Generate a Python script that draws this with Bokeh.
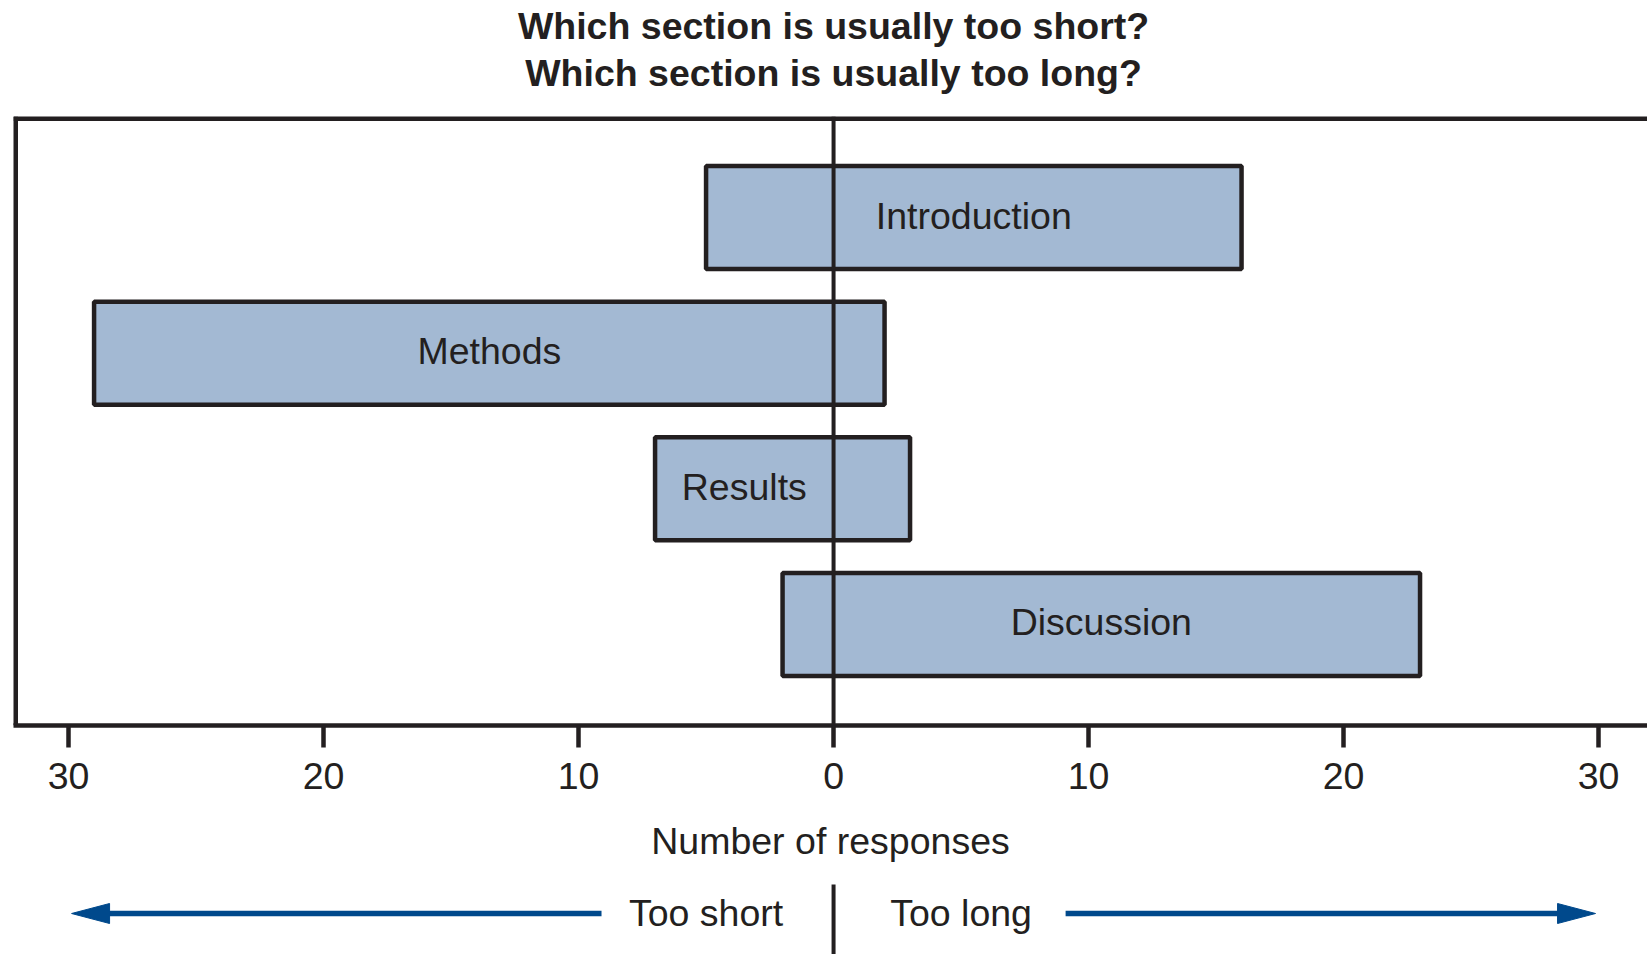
from bokeh.plotting import figure
from bokeh.models import FactorRange, Range1d, FixedTicker, Span, ColumnDataSource
from bokeh.layouts import column
from bokeh.core.properties import value
from bokeh.embed import file_html
from bokeh.resources import INLINE

# ---------------- data ----------------
sections = ["Introduction", "Methods", "Results", "Discussion"]
too_short = [5, 29, 7, 2]
too_long = [16, 2, 3, 23]
x_ticks = [-30, -20, -10, 0, 10, 20, 30]
x_tick_labels = ["30", "20", "10", "0", "10", "20", "30"]
title_lines = ["Which section is usually too short?", "Which section is usually too long?"]
x_axis_label = "Number of responses"
direction_labels = ["Too short", "Too long"]

# ---------------- style ----------------
FONT = "Liberation Sans"
FS = "37.5px"
INK = "#231f20"
BAR_FILL = "#a3b9d3"
ARROW = "#00498c"
W = 1647
X_START, X_END = -32.16, 31.92
PX = 25.5          # pixels per unit on the x axis
PAD = 0.245        # category padding at each end
LW = 4.5


def bare(fig):
    fig.xgrid.visible = False
    fig.ygrid.visible = False
    return fig


left = [-s for s in too_short]
right = list(too_long)
label_x = [(l + r) / 2 for l, r in zip(left, right)]
# the Results label sits in its too-short part, left of the zero line
label_x[2] = left[2] / 2

src = ColumnDataSource(dict(section=sections, left=left, right=right, label_x=label_x))
x_range = Range1d(X_START, X_END)

# ---------------- title strip ----------------
pt = bare(figure(width=W, height=112, x_range=x_range, y_range=Range1d(0, 112),
                 output_backend="svg", toolbar_location=None, title=None,
                 x_axis_location=None, y_axis_location=None,
                 min_border_left=13, min_border_right=0, min_border_top=0, min_border_bottom=0,
                 outline_line_color=None, background_fill_color="white",
                 border_fill_color="white"))
pt.text(x=[0, 0], y=[86.6, 39.5], text=title_lines, text_align="center",
        text_baseline="middle", text_font=value(FONT), text_font_size=FS,
        text_font_style="bold", text_color=INK)

# ---------------- main chart ----------------
p = bare(figure(width=W, height=758, x_range=x_range,
                y_range=FactorRange(factors=list(reversed(sections)), range_padding=PAD,
                                    range_padding_units="absolute"),
                output_backend="svg", toolbar_location=None, title=None,
                y_axis_location=None, x_axis_location="below",
                min_border_left=13, min_border_right=0, min_border_top=4, min_border_bottom=145,
                outline_line_color=None, background_fill_color="white",
                border_fill_color="white"))

ax = p.xaxis[0]
ax.ticker = FixedTicker(ticks=x_ticks)
ax.major_label_overrides = dict(zip(x_ticks, x_tick_labels))
ax.axis_line_width = LW
ax.axis_line_color = INK
ax.major_tick_out = 22
ax.major_tick_in = 0
ax.major_tick_line_width = LW
ax.major_tick_line_color = INK
ax.minor_tick_line_color = None
ax.major_label_text_font = FONT
ax.major_label_text_font_size = FS
ax.major_label_text_color = INK
ax.major_label_standoff = 15
ax.axis_label = x_axis_label
ax.axis_label_text_font = FONT
ax.axis_label_text_font_size = FS
ax.axis_label_text_font_style = "normal"
ax.axis_label_text_color = INK
ax.axis_label_standoff = 28

# top and left frame lines (drawn on the frame edge; the frame clips their outer half)
p.add_layout(Span(location=len(sections) + PAD, dimension="width", line_color=INK,
                  line_width=2 * LW))
p.add_layout(Span(location=X_START, dimension="height", line_color=INK, line_width=2 * LW))

p.hbar(y="section", left="left", right="right", height=0.76, source=src,
       fill_color=BAR_FILL, line_color=INK, line_width=LW)
p.text(x="label_x", y="section", text="section", source=src, text_align="center",
       text_baseline="middle", y_offset=-2, text_font=value(FONT), text_font_size=FS,
       text_color=INK)
p.add_layout(Span(location=0, dimension="height", line_color=INK, line_width=4))

# ---------------- direction strip ----------------
p2 = bare(figure(width=W, height=84, x_range=x_range, y_range=Range1d(0, 84),
                 output_backend="svg", toolbar_location=None, title=None,
                 x_axis_location=None, y_axis_location=None,
                 min_border_left=13, min_border_right=0, min_border_top=0, min_border_bottom=0,
                 outline_line_color=None, background_fill_color="white",
                 border_fill_color="white"))

head_len = 38 / PX
tip_l = x_ticks[0] + 3 / PX
tip_r = x_ticks[-1] - 3 / PX
arrow_y = 41
p2.segment(x0=[-9.1, 9.1], y0=[arrow_y, arrow_y],
           x1=[tip_l + head_len * 0.8, tip_r - head_len * 0.8], y1=[arrow_y, arrow_y],
           line_color=ARROW, line_width=5.5)
p2.patches(xs=[[tip_l, tip_l + head_len, tip_l + head_len],
               [tip_r, tip_r - head_len, tip_r - head_len]],
           ys=[[arrow_y, arrow_y + 10, arrow_y - 10], [arrow_y, arrow_y + 10, arrow_y - 10]],
           fill_color=ARROW, line_color=ARROW, line_width=1)
p2.segment(x0=[0], y0=[0], x1=[0], y1=[70], line_color=INK, line_width=4)
p2.text(x=[-5, 5], y=[42, 42], text=direction_labels, text_align="center",
        text_baseline="middle", text_font=value(FONT), text_font_size=FS, text_color=INK)

layout = column(pt, p, p2, spacing=0)
open("out.html", "w").write(file_html(layout, INLINE))
